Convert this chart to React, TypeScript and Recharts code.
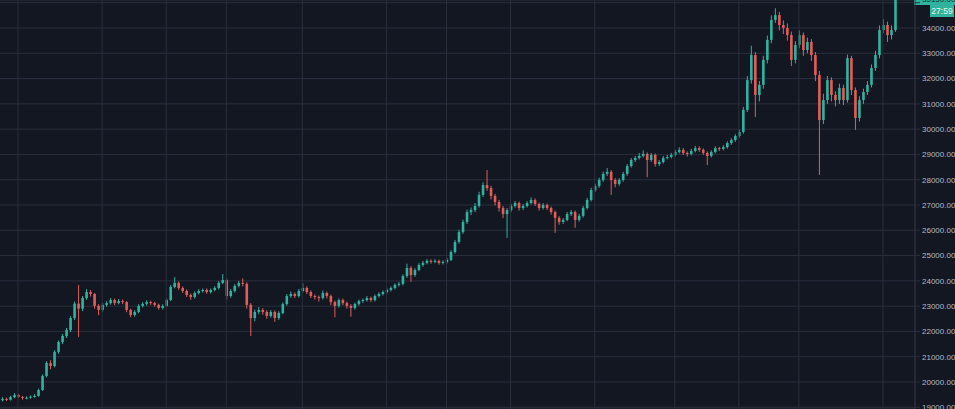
import React from "react";
import {
  ComposedChart,
  Bar,
  XAxis,
  YAxis,
  CartesianGrid,
  ReferenceLine,
} from "recharts";

const UP = "#30b29e";
const DOWN = "#e25d5a";
const GRID = "#2a2f3d";
const BG = "#131722";

// open of the first candle; every later candle opens at the previous close
const firstOpen = 19280;

const closes = [
  19330, 19300, 19400, 19490, 19410, 19370, 19380, 19420, 19450, 19680,
  20240, 20750, 20630, 21190, 21580, 21820, 22060, 22530, 23100, 22900,
  23320, 23560, 23480, 23010, 22850, 23050, 23120, 23240, 23120, 23200,
  23160, 22850, 22650, 22770, 23010, 23090, 23160, 23120, 23050, 22930,
  23010, 23240, 23760, 23920, 23720, 23600, 23440, 23360, 23520, 23600,
  23640, 23560, 23640, 23720, 23920, 24030, 23400, 23600, 23800, 23920,
  23880, 23050, 22530, 22770, 22850, 22770, 22610, 22770, 22530, 22730,
  23080, 23400, 23480, 23400, 23600, 23720, 23560, 23400, 23360, 23320,
  23520, 23400, 23160, 23010, 23240, 23120, 23010, 22930, 23080, 23200,
  23240, 23320, 23240, 23400, 23480, 23560, 23640, 23720, 23840, 23880,
  24190, 24510, 24230, 24430, 24630, 24710, 24790, 24750, 24790, 24710,
  24750, 24830, 25140, 25540, 25930, 26330, 26720, 26800, 26960, 27400,
  27790, 27670, 27360, 27120, 26880, 26640, 26800, 26960, 27080, 26880,
  26960, 27080, 27200, 27040, 26880, 27000, 26880, 26720, 26490, 26330,
  26410, 26640, 26720, 26410, 26570, 26880, 27200, 27590, 27750, 27990,
  28230, 28310, 27990, 27830, 27990, 28230, 28540, 28780, 28860, 28940,
  29020, 28780, 28980, 28620, 28700, 28860, 28900, 28980, 29100, 29180,
  29060, 29020, 29140, 29250, 29180, 29060, 28940, 29100, 29250, 29220,
  29290, 29450, 29570, 29730, 29890, 30760, 31940, 32930, 31350, 31750,
  32740, 33530, 34320, 34510, 34120, 34000, 33720, 32740, 33330, 33720,
  33130, 33450, 32930, 32140, 30360, 31150, 31940, 31350, 31150, 31630,
  31150, 32810, 31550, 30440, 31150, 31470, 31750, 32420, 32930, 33920,
  34120, 33720, 33920, 35150,
];

const highs = [
  19400, 19380, 19450, 19560, 19530, 19450, 19430, 19470, 19520, 19740,
  20300, 20820, 20860, 21260, 21640, 21900, 22140, 22600, 23180, 23840,
  23400, 23680, 23640, 23520, 23080, 23130, 23200, 23320, 23300, 23280,
  23260, 23200, 22900, 22840, 23080, 23160, 23230, 23220, 23170, 23100,
  23070, 23300, 23840, 24150, 23980, 23780, 23660, 23500, 23580, 23670,
  23700, 23700, 23700, 23790, 23990, 24270, 24100, 23680, 23870, 24000,
  24100, 23940, 23120, 22860, 22960, 22920, 22840, 22850, 22830, 22800,
  23150, 23480, 23580, 23540, 23680, 23900, 23780, 23620, 23460, 23420,
  23620, 23580, 23460, 23220, 23300, 23300, 23180, 23080, 23140, 23260,
  23300, 23400, 23380, 23460, 23550, 23620, 23700, 23780, 23900, 23960,
  24260, 24680, 24580, 24500, 24700, 24790, 24860, 24850, 24860, 24840,
  24810, 24900, 25210, 25620, 26020, 26420, 26820, 26900, 27080, 27520,
  27900, 28380, 27760, 27440, 27200, 26960, 26880, 27040, 27160, 27140,
  27040, 27150, 27300, 27260, 27100, 27080, 27060, 26940, 26780, 26560,
  26480, 26720, 26800, 26780, 26650, 26960, 27280, 27680, 27840, 28080,
  28320, 28460, 28380, 28060, 28060, 28310, 28620, 28860, 28940, 29060,
  29160, 29080, 29060, 29040, 28780, 28940, 28980, 29060, 29180, 29280,
  29250, 29120, 29220, 29340, 29320, 29240, 29120, 29160, 29320, 29300,
  29360, 29520, 29640, 29800, 29980, 30880, 32100, 33300, 33050, 31900,
  32900, 33700, 34500, 34780, 34640, 34300, 34180, 33860, 33480, 33900,
  33820, 33620, 33560, 33050, 32300, 31400, 32100, 32050, 31500, 31800,
  31760, 32950, 32900, 31650, 31300, 31600, 31900, 32560, 33100, 34100,
  34350, 34250, 34100, 35400,
];

const lows = [
  19230, 19250, 19270, 19360, 19360, 19300, 19320, 19340, 19380, 19420,
  19650, 20180, 20500, 20580, 21120, 21500, 21740, 21980, 22450, 21780,
  22800, 23250, 23380, 22900, 22640, 22780, 22980, 23060, 23040, 23070,
  23080, 22760, 22560, 22580, 22720, 22950, 23020, 23050, 22980, 22860,
  22870, 22960, 23200, 23700, 23640, 23520, 23360, 23250, 23300, 23460,
  23540, 23490, 23500, 23590, 23660, 23860, 23250, 23330, 23540, 23740,
  23780, 22900, 21820, 22400, 22680, 22660, 22500, 22540, 22380, 22460,
  22680, 23020, 23330, 23320, 23340, 23540, 23480, 23320, 23260, 23180,
  23260, 23300, 23040, 22560, 22940, 23040, 22900, 22580, 22860, 23020,
  23130, 23180, 23160, 23180, 23340, 23420, 23500, 23580, 23660, 23780,
  23820, 24120, 23960, 24160, 24380, 24560, 24650, 24680, 24700, 24640,
  24650, 24690, 24780, 25080, 25470, 25860, 26250, 26600, 26720, 26900,
  27320, 27560, 27220, 26980, 26740, 26480, 25700, 26720, 26900, 26780,
  26800, 26900, 27020, 26960, 26780, 26820, 26800, 26620, 25900, 26220,
  26250, 26360, 26560, 26100, 26340, 26500, 26820, 27140, 27520, 27680,
  27920, 28150, 27400, 27700, 27760, 27920, 28160, 28480, 28700, 28800,
  28880, 28100, 28700, 28520, 28540, 28640, 28800, 28840, 28920, 29040,
  28980, 28920, 28960, 29080, 29100, 28980, 28580, 28880, 29040, 29140,
  29160, 29230, 29380, 29500, 29660, 29820, 30680, 31800, 30480, 31100,
  31600, 32600, 33400, 34200, 33900, 33760, 33500, 32500, 32600, 33200,
  32900, 33000, 32700, 31900, 28190, 30200, 31000, 31100, 30900, 31000,
  30950, 31050, 31350, 29970, 30300, 31000, 31350, 31650, 32300, 32800,
  33800, 33450, 33550, 33850,
];

// candles under the vertical grid lines
const gridIndices = [4, 25, 41, 56, 75, 96, 111, 127, 148, 168, 184, 199, 220];

const priceTicks = [
  19000, 20000, 21000, 22000, 23000, 24000, 25000, 26000, 27000, 28000,
  29000, 30000, 31000, 32000, 33000, 34000, 35000,
];
// the 35000 label sits under the live price tag
const hiddenTick = 35000;

const countdown = "27:59";

const data = closes.map((close, i) => {
  const open = i === 0 ? firstOpen : closes[i - 1];
  return { i, open, close, high: highs[i], low: lows[i], range: [lows[i], highs[i]] };
});

const lastClose = closes[closes.length - 1];

const Candle = (props: any) => {
  const { x, y, width, height, payload } = props;
  if (!payload || height == null) return null;
  const top = Math.min(y, y + height);
  const h = Math.abs(height);
  const span = payload.high - payload.low;
  const ppu = span > 0 ? h / span : 0;
  const toY = (v: number) => top + (payload.high - v) * ppu;
  const up = payload.close >= payload.open;
  const color = up ? UP : DOWN;
  const cx = x + width / 2;
  const yO = toY(payload.open);
  const yC = toY(payload.close);
  const bw = 2.6;
  return (
    <g>
      <line x1={cx} x2={cx} y1={toY(payload.high)} y2={toY(payload.low)} stroke={color} strokeWidth={1} />
      <rect
        x={cx - bw / 2}
        y={Math.min(yO, yC)}
        width={bw}
        height={Math.max(1, Math.abs(yO - yC))}
        fill={color}
      />
    </g>
  );
};

const PriceTag = (props: any) => {
  const vb = props.viewBox;
  if (!vb) return null;
  const left = vb.x + vb.width;
  const yy = Math.max(vb.y, 0);
  return (
    <g fontFamily="Liberation Sans, Arial, sans-serif">
      <rect x={left - 1} y={yy - 8} width={45} height={13} fill={UP} />
      <text x={left + 7} y={yy + 2} fontSize={8} fill="#0f3b35">
        {lastClose.toFixed(2)}
      </text>
      <rect x={left + 15} y={yy + 5} width={24} height={12} fill={UP} />
      <text x={left + 27} y={yy + 14} fontSize={8.5} fill="#e8f5f2" textAnchor="middle">
        {countdown}
      </text>
    </g>
  );
};

export default function App() {
  return (
    <div style={{ position: "absolute", left: 0, top: 0, width: 955, height: 409, background: BG }}>
      <ComposedChart
        width={955}
        height={409}
        data={data}
        margin={{ top: 0, right: 0, bottom: 0, left: 0 }}
        style={{ background: BG }}
      >
        <CartesianGrid stroke={GRID} strokeWidth={1} vertical={false} />
        <XAxis
          dataKey="i"
          type="category"
          interval={0}
          height={0}
          tick={false}
          axisLine={false}
          tickLine={false}
          padding={{ left: 0, right: 18 }}
        />
        <YAxis
          orientation="right"
          width={40}
          domain={[18932, 35108]}
          ticks={priceTicks}
          allowDataOverflow
          interval={0}
          tickFormatter={(v: number) => (v === hiddenTick ? "" : v.toFixed(2))}
          tick={{ fill: "#b6b9c2", fontSize: 8, fontFamily: "Liberation Sans, Arial, sans-serif", textAnchor: "start" }}
          tickSize={5}
          tickMargin={2}
          tickLine={{ stroke: GRID }}
          axisLine={{ stroke: "#363a47" }}
        />
        {gridIndices.map((g) => (
          <ReferenceLine key={g} x={g} stroke={GRID} strokeWidth={1} />
        ))}
        <Bar dataKey="range" barSize={3} shape={<Candle />} isAnimationActive={false} />
        <ReferenceLine
          y={lastClose}
          ifOverflow="visible"
          stroke="none"
          label={<PriceTag />}
        />
      </ComposedChart>
    </div>
  );
}
